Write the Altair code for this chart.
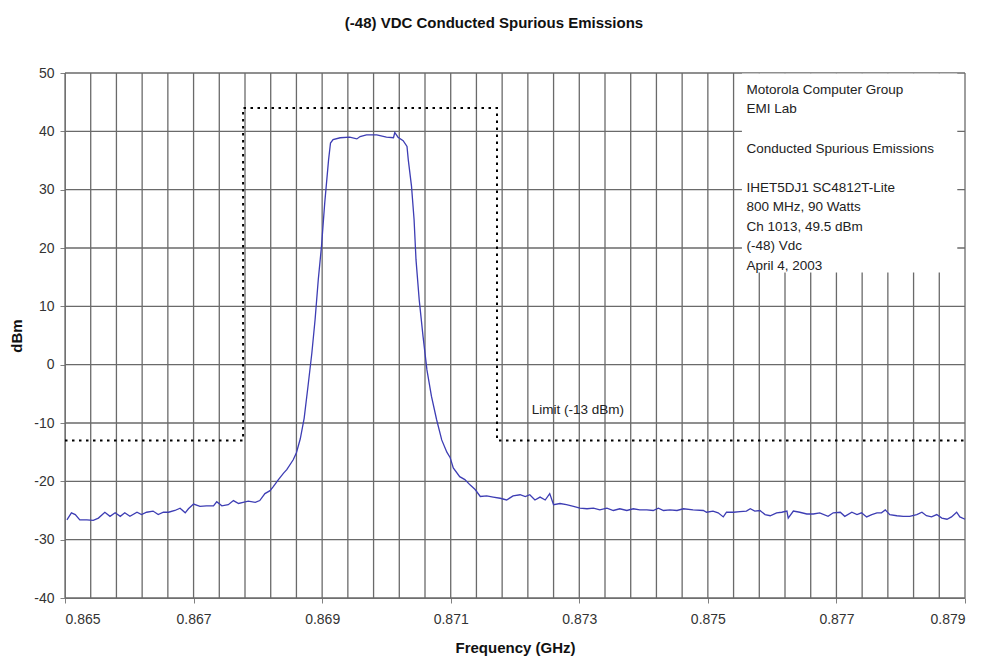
import altair as alt
import pandas as pd

# Measured spectrum trace: frequency (GHz) and level (dBm)
freq_ghz = [
    0.86503, 0.86510, 0.86516, 0.86523, 0.86534, 0.86544, 0.86552, 0.86562, 0.86570, 0.86578,
    0.86586, 0.86593, 0.86601, 0.86612, 0.86619, 0.86627, 0.86637, 0.86645, 0.86653, 0.86661,
    0.86671, 0.86679, 0.86687, 0.86692, 0.86700, 0.86710, 0.86720, 0.86731, 0.86736, 0.86744,
    0.86754, 0.86762, 0.86770, 0.86777, 0.86785, 0.86796, 0.86803, 0.86811, 0.86819, 0.86824,
    0.86832, 0.86840, 0.86845, 0.86855, 0.86860, 0.86866, 0.86872, 0.86878, 0.86884, 0.86889,
    0.86894, 0.86899, 0.86904, 0.86910, 0.86913, 0.86917, 0.86928, 0.86943, 0.86954, 0.86959,
    0.86969, 0.86985, 0.87000, 0.87011, 0.87013, 0.87018, 0.87026, 0.87032, 0.87034, 0.87039,
    0.87043, 0.87046, 0.87051, 0.87057, 0.87063, 0.87070, 0.87078, 0.87086, 0.87094, 0.87099,
    0.87104, 0.87114, 0.87122, 0.87130, 0.87138, 0.87146, 0.87156, 0.87166, 0.87177, 0.87187,
    0.87197, 0.87208, 0.87216, 0.87223, 0.87231, 0.87239, 0.87247, 0.87254, 0.87260, 0.87270,
    0.87280, 0.87291, 0.87301, 0.87312, 0.87322, 0.87332, 0.87343, 0.87353, 0.87363, 0.87374,
    0.87384, 0.87394, 0.87405, 0.87415, 0.87423, 0.87431, 0.87441, 0.87452, 0.87462, 0.87477,
    0.87493, 0.87498, 0.87508, 0.87516, 0.87524, 0.87529, 0.87540, 0.87550, 0.87560, 0.87566,
    0.87573, 0.87581, 0.87589, 0.87597, 0.87607, 0.87615, 0.87623, 0.87625, 0.87633, 0.87643,
    0.87654, 0.87664, 0.87674, 0.87687, 0.87695, 0.87706, 0.87713, 0.87724, 0.87732, 0.87739,
    0.87747, 0.87755, 0.87763, 0.87770, 0.87776, 0.87783, 0.87794, 0.87804, 0.87814, 0.87825,
    0.87833, 0.87840, 0.87848, 0.87856, 0.87864, 0.87872, 0.87879, 0.87887, 0.87892, 0.87900,
]
level_dbm = [
    -26.6, -25.4, -25.7, -26.6, -26.6, -26.7, -26.3, -25.3, -26.0, -25.4,
    -26.0, -25.4, -26.0, -25.3, -25.7, -25.3, -25.1, -25.7, -25.3, -25.3,
    -25.0, -24.6, -25.4, -24.7, -23.9, -24.3, -24.2, -24.2, -23.5, -24.2,
    -24.0, -23.3, -23.8, -23.6, -23.4, -23.6, -23.3, -22.1, -21.6, -20.9,
    -19.7, -18.6, -18.0, -16.3, -15.1, -12.7, -9.2, -3.7, 2.0, 7.7,
    14.6, 20.3, 27.7, 35.1, 38.0, 38.6, 38.9, 39.0, 38.7, 39.1,
    39.4, 39.4, 39.0, 38.9, 39.8, 39.0, 38.4, 37.4, 35.1, 30.6,
    24.9, 18.0, 11.1, 4.8, -0.9, -5.4, -9.4, -12.9, -15.0, -15.9,
    -17.7, -19.2, -19.7, -20.6, -21.4, -22.6, -22.5, -22.7, -22.9, -23.2,
    -22.5, -22.3, -22.6, -22.3, -23.2, -22.7, -23.2, -22.1, -24.0, -23.8,
    -24.0, -24.3, -24.6, -24.7, -24.6, -24.9, -24.6, -25.0, -24.7, -25.0,
    -24.7, -24.9, -24.9, -25.0, -24.6, -25.0, -24.9, -25.0, -24.7, -24.9,
    -25.0, -25.3, -25.1, -25.4, -26.1, -25.3, -25.3, -25.2, -25.1, -24.7,
    -25.1, -25.0, -25.7, -25.9, -25.4, -25.3, -25.1, -26.3, -25.1, -25.3,
    -25.6, -25.6, -25.4, -26.0, -25.4, -25.3, -26.0, -25.3, -25.7, -25.4,
    -26.1, -25.7, -25.4, -25.4, -24.9, -25.7, -25.9, -26.0, -26.0, -25.7,
    -25.3, -25.9, -26.1, -25.7, -26.3, -26.5, -26.1, -25.3, -26.1, -26.5,
]

# Emission mask (limit line) corner points
mask_freq = [0.865, 0.86777, 0.86777, 0.87172, 0.87172, 0.879]
mask_dbm = [-13, -13, 44, 44, -13, -13]

# Axis tick labels and grid positions
x_tick_labels = [0.865, 0.867, 0.869, 0.871, 0.873, 0.875, 0.877, 0.879]
y_tick_labels = [-40, -30, -20, -10, 0, 10, 20, 30, 40, 50]
x_grid = [round(0.865 + 0.0004 * i, 4) for i in range(36)]

# Test information block
info_lines = [
    "Motorola Computer Group",
    "EMI Lab",
    "",
    "Conducted Spurious Emissions",
    "",
    "IHET5DJ1 SC4812T-Lite",
    "800 MHz, 90 Watts",
    "Ch 1013, 49.5 dBm",
    "(-48) Vdc",
    "April 4, 2003",
]

FONT = "Liberation Sans"
GRID = "#6a6a6a"

trace_df = pd.DataFrame({"f": freq_ghz, "dbm": level_dbm})
mask_df = pd.DataFrame({"f": mask_freq, "dbm": mask_dbm, "order": range(len(mask_freq))})
vgrid_df = pd.DataFrame({"f": x_grid})
hgrid_df = pd.DataFrame({"dbm": y_tick_labels})

info_top, info_step = 47.1, -3.35
info_df = pd.DataFrame({
    "txt": info_lines,
    "dbm": [info_top + info_step * i for i in range(len(info_lines))],
    "f": [0.87560] * len(info_lines),
})
info_df = info_df[info_df["txt"] != ""]

box_df = pd.DataFrame({"f": [0.87553], "f2": [0.87888], "y": [15.8], "y2": [49.9]})
limit_label_df = pd.DataFrame({"f": [0.87226], "dbm": [-7.8], "txt": ["Limit (-13 dBm)"]})

xs = alt.Scale(domain=[0.865, 0.879], nice=False, zero=False)
ys = alt.Scale(domain=[-40, 50], nice=False, zero=False)

x_axis = alt.Axis(
    values=x_tick_labels, format=".3f", grid=False, tickSize=5, labelPadding=9,
    title="Frequency (GHz)", titlePadding=14,
)
y_axis = alt.Axis(
    values=y_tick_labels, grid=False, tickSize=5, labelPadding=6,
    labelExpr="toString(datum.value)",
    title="dBm", titlePadding=9,
)


def fx(field="f"):
    return alt.X(f"{field}:Q", scale=xs, axis=x_axis)


def fy(field="dbm"):
    return alt.Y(f"{field}:Q", scale=ys, axis=y_axis)


vgrid = alt.Chart(vgrid_df).mark_rule(color=GRID, strokeWidth=1.3).encode(x=fx())
hgrid = alt.Chart(hgrid_df).mark_rule(color=GRID, strokeWidth=1.3).encode(y=fy())

box = alt.Chart(box_df).mark_rect(color="white").encode(
    x=fx(), x2="f2:Q", y=fy("y"), y2="y2:Q",
)

info_text = alt.Chart(info_df).mark_text(
    align="left", baseline="middle", font=FONT, fontSize=13.5, color="#222"
).encode(x=fx(), y=fy(), text="txt:N")

limit_label = alt.Chart(limit_label_df).mark_text(
    align="left", baseline="middle", font=FONT, fontSize=13.5, color="#222"
).encode(x=fx(), y=fy(), text="txt:N")

mask = alt.Chart(mask_df).mark_line(
    color="black", strokeWidth=2, strokeDash=[2.5, 4.5]
).encode(x=fx(), y=fy(), order="order:Q")

trace = alt.Chart(trace_df).mark_line(color="#3d3db4", strokeWidth=1.3).encode(
    x=fx(), y=fy(),
)

chart = alt.layer(vgrid, hgrid, box, info_text, limit_label, mask, trace).properties(
    width=900,
    height=525,
    autosize=alt.AutoSizeParams(type="none"),
    padding={"left": 65, "top": 73, "right": 22, "bottom": 62},
    title=alt.TitleParams(
        "(-48) VDC Conducted Spurious Emissions",
        font=FONT, fontSize=15, fontWeight="bold", color="#111",
        anchor="middle", dx=-21, dy=3, offset=38,
    ),
    background="white",
).configure_view(stroke=None).configure_axis(
    domainColor="#808080", tickColor="#808080",
    labelFont=FONT, labelFontSize=14, labelColor="#333",
    titleFont=FONT, titleFontSize=15, titleFontWeight="bold", titleColor="#111",
)

chart.save("out.html", embed_options={"renderer": "svg", "actions": False})
